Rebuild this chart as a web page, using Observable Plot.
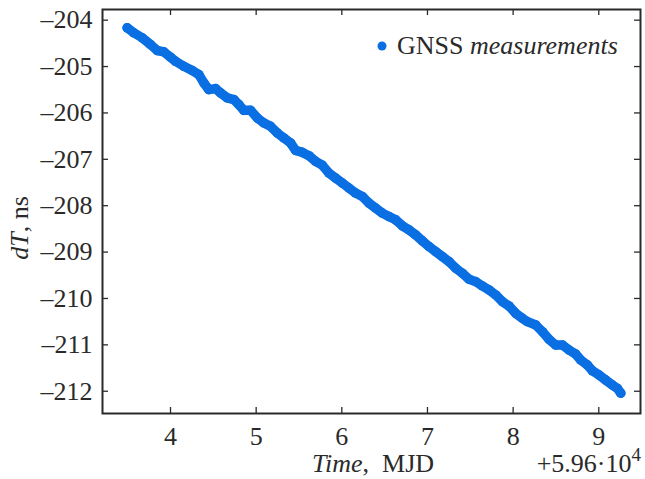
<!DOCTYPE html>
<html><head><meta charset="utf-8">
<script src="https://cdn.jsdelivr.net/npm/d3@7"></script>
<script src="https://cdn.jsdelivr.net/npm/@observablehq/plot@0.6"></script>
<style>
body{margin:0;background:#fff}
svg{font-family:"Liberation Serif","DejaVu Serif",serif}
</style>
</head><body><div id="chart"></div>
<script>
// Time offset from 5.96e4 MJD
const mjd = [3.494,3.571,3.669,3.766,3.845,3.922,4.000,4.058,4.155,4.254,4.331,4.389,4.447,4.526,4.584,4.662,4.740,4.798,4.856,4.935,5.013,5.090,5.168,5.246,5.324,5.402,5.460,5.539,5.616,5.694,5.772,5.849,5.928,6.006,6.083,6.161,6.239,6.317,6.395,6.473,6.550,6.629,6.707,6.784,6.862,6.940,7.018,7.096,7.174,7.251,7.329,7.408,7.485,7.563,7.641,7.718,7.797,7.875,7.952,8.030,8.109,8.167,8.264,8.342,8.419,8.498,8.576,8.653,8.731,8.790,8.868,8.926,9.004,9.082,9.160,9.218,9.257];
const dT = [-204.164,-204.272,-204.380,-204.525,-204.654,-204.683,-204.799,-204.886,-204.994,-205.086,-205.173,-205.352,-205.497,-205.475,-205.568,-205.676,-205.713,-205.821,-205.944,-205.944,-206.108,-206.216,-206.289,-206.432,-206.540,-206.648,-206.808,-206.851,-206.922,-207.045,-207.127,-207.296,-207.404,-207.512,-207.620,-207.728,-207.801,-207.944,-208.052,-208.160,-208.233,-208.305,-208.434,-208.521,-208.629,-208.758,-208.881,-208.989,-209.097,-209.205,-209.348,-209.456,-209.585,-209.637,-209.730,-209.816,-209.924,-210.069,-210.162,-210.320,-210.428,-210.501,-210.572,-210.717,-210.881,-211.004,-211.004,-211.112,-211.199,-211.328,-211.436,-211.559,-211.652,-211.760,-211.868,-211.940,-212.041];
const xTicks = [4,5,6,7,8,9];
const yTicks = [-204,-205,-206,-207,-208,-209,-210,-211,-212];
const seriesName = "GNSS";
const seriesNameItalic = "measurements";
const xTitle = "Time";
const xUnit = "MJD";
const xOffsetLabel = "+5.96\u00b710";
const xOffsetExp = "4";
const yTitle = "dT";
const yUnit = ", ns";

const W = 645, H = 479, mL = 102, mR = 5, mT = 9, mB = 66;
const innerH = H - mT - mB, innerW = W - mL - mR;
const color = "#0a6fe2";
const ink = "#2a2a2a";
const data = mjd.map((x, i) => ({x, y: dT[i]}));
const fmt = d => d < 0 ? "\u2013" + Math.abs(d) : String(d);

const chart = Plot.plot({
  width: W, height: H,
  marginLeft: mL, marginRight: mR, marginTop: mT, marginBottom: mB,
  style: {fontFamily: "Liberation Serif", fontSize: "26px", color: ink, background: "#fff"},
  x: {domain: [3.206, 9.487]},
  y: {domain: [-212.48, -203.77]},
  marks: [
    Plot.tickX(xTicks, {x: d => d, insetTop: innerH - 6, stroke: ink, strokeWidth: 1.3}),
    Plot.tickX(xTicks, {x: d => d, insetBottom: innerH - 6, stroke: ink, strokeWidth: 1.3}),
    Plot.tickY(yTicks, {y: d => d, insetRight: innerW - 6, stroke: ink, strokeWidth: 1.3}),
    Plot.tickY(yTicks, {y: d => d, insetLeft: innerW - 6, stroke: ink, strokeWidth: 1.3}),
    Plot.axisX(xTicks, {tickSize: 0, tickPadding: 13, label: null, fontSize: 26}),
    Plot.axisY(yTicks, {tickSize: 0, tickPadding: 10, tickFormat: fmt, label: null, fontSize: 26}),
    Plot.line(data, {x: "x", y: "y", stroke: color, strokeWidth: 9.5, strokeLinecap: "round", strokeLinejoin: "round"}),
    Plot.dot(data, {x: "x", y: "y", r: 4.8, fill: color}),
    Plot.frame({stroke: ink, strokeWidth: 2})
  ]
});
document.getElementById("chart").appendChild(chart);

const svg = d3.select(chart);
const g = svg.append("g").attr("fill", ink).attr("text-anchor", "start").style("font-size", "26px");
// legend
g.append("circle").attr("cx", 382).attr("cy", 46).attr("r", 4.5).attr("fill", color);
const lt = g.append("text").attr("x", 397).attr("y", 53.5).attr("text-anchor", "start").style("white-space", "pre");
lt.append("tspan").text(seriesName + " ");
lt.append("tspan").attr("font-style", "italic").text(seriesNameItalic);
// x title
const xt = g.append("text").attr("x", 312).attr("y", 472).attr("text-anchor", "start").style("white-space", "pre");
xt.append("tspan").attr("font-style", "italic").text(xTitle);
xt.append("tspan").text(",  " + xUnit);
const xo = g.append("text").attr("x", 641).attr("y", 472).attr("text-anchor", "end");
xo.append("tspan").text(xOffsetLabel);
xo.append("tspan").attr("dy", -11).style("font-size", "19px").text(xOffsetExp);
// y title
const yt = g.append("text").attr("transform", "translate(28,228) rotate(-90)").attr("text-anchor", "middle").style("white-space", "pre");
yt.append("tspan").attr("font-style", "italic").text(yTitle);
yt.append("tspan").text(yUnit);
</script>
</body></html>
